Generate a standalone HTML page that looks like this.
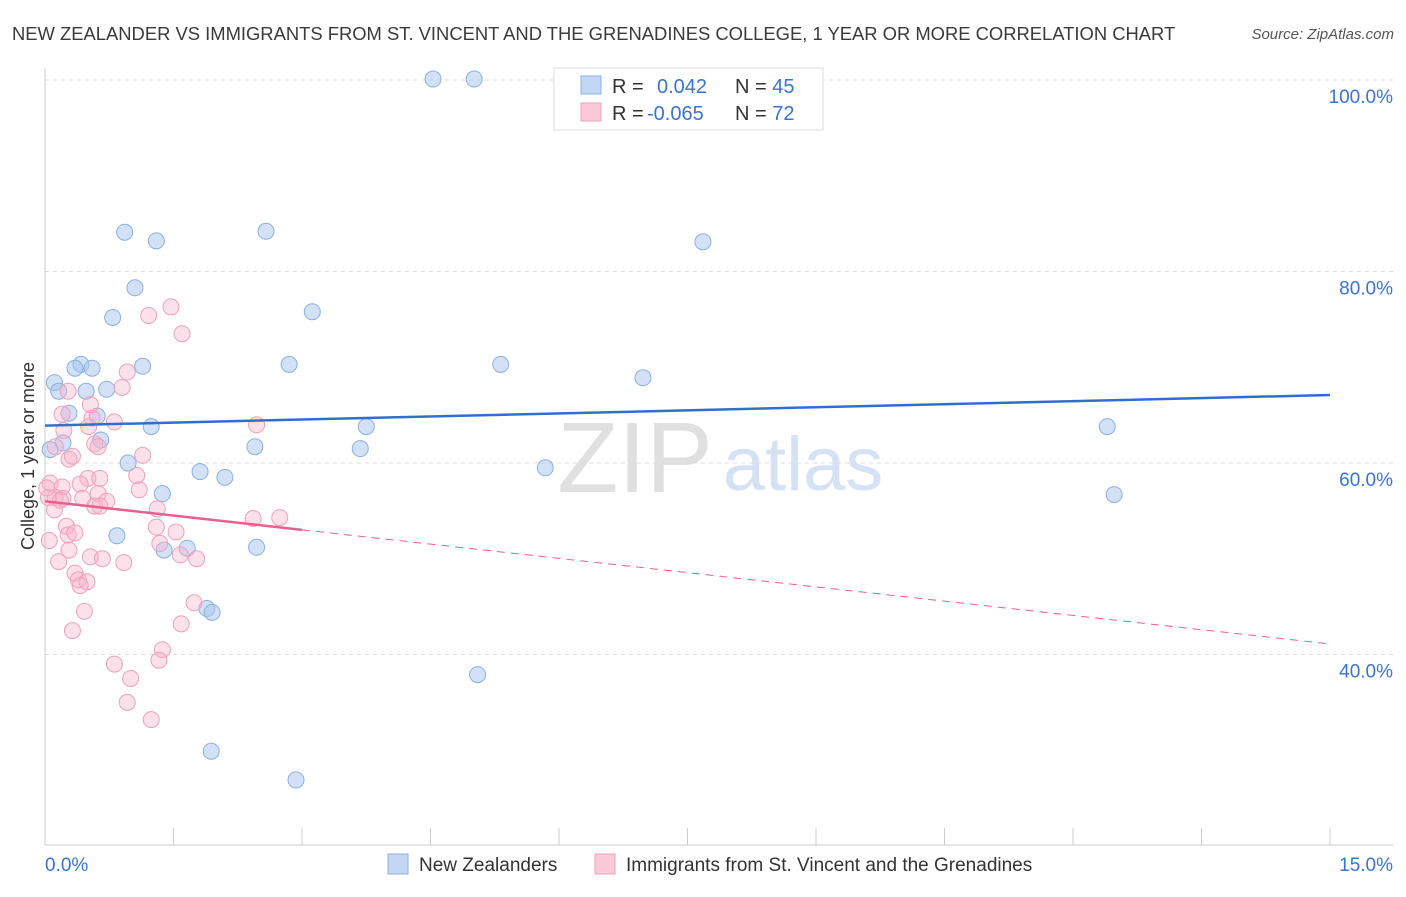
<!DOCTYPE html>
<html><head><meta charset="utf-8"><style>
body{margin:0;background:#fff;font-family:"Liberation Sans",sans-serif;}
svg text{font-family:"Liberation Sans",sans-serif;}
</style></head><body>
<svg id="chart" width="1406" height="892">
<text x="12" y="40" font-size="18.4" fill="#3a3a3a">NEW ZEALANDER VS IMMIGRANTS FROM ST. VINCENT AND THE GRENADINES COLLEGE, 1 YEAR OR MORE CORRELATION CHART</text>
<text x="1394" y="39" font-size="15" fill="#555" font-style="italic" text-anchor="end">Source: ZipAtlas.com</text>
<text x="635" y="492" font-size="100" fill="#e0e0e0" font-family="Liberation Serif,serif" text-anchor="middle">ZIP</text>
<text x="803" y="490" font-size="76" fill="#d4e2f4" text-anchor="middle">atlas</text>
<g id="grid"></g><g id="axes"></g><g id="pts"></g><g id="lines"></g>
<text transform="translate(34,456) rotate(-90)" font-size="18" fill="#333" text-anchor="middle">College, 1 year or more</text>
<g>
<rect x="554" y="68" width="269" height="62" fill="#fff" stroke="#ddd"/>
<rect x="581" y="76" width="20" height="18" fill="#c3d6f3" stroke="#8ab0e0"/>
<rect x="581" y="103" width="20" height="18" fill="#fbc9d8" stroke="#f0a0bb"/>
<text x="612" y="93" font-size="20" fill="#333">R = <tspan fill="#3a74d0" x="657">0.042</tspan><tspan fill="#333" x="735">N = </tspan><tspan fill="#3a74d0">45</tspan></text>
<text x="612" y="120" font-size="20" fill="#333">R = <tspan fill="#3a74d0" x="647">-0.065</tspan><tspan fill="#333" x="735">N = </tspan><tspan fill="#3a74d0">72</tspan></text>
</g>
<g>
<rect x="388" y="854" width="20" height="20" fill="#c3d6f3" stroke="#8ab0e0"/>
<text x="419" y="871" font-size="19" fill="#333">New Zealanders</text>
<rect x="595" y="854" width="20" height="20" fill="#fbc9d8" stroke="#f0a0bb"/>
<text x="626" y="871" font-size="19" fill="#333">Immigrants from St. Vincent and the Grenadines</text>
</g>
</svg>
<script>
const yTicks=[40,60,80,100];
const yTickLabels=["40.0%","60.0%","80.0%","100.0%"];
const xTickLabels=["0.0%","15.0%"];
const blueX=[4.53,5.01,0.93,1.30,2.58,7.68,1.05,0.79,3.12,0.42,0.35,0.55,1.14,2.85,5.32,6.98,0.11,0.16,0.48,0.72,0.28,0.61,1.24,3.75,12.40,0.21,0.65,2.45,3.68,0.97,1.81,2.10,5.84,1.37,12.48,0.84,1.66,1.39,2.47,1.89,1.95,5.05,1.94,2.93,0.06];
const blueY=[100.1,100.1,84.1,83.2,84.2,83.1,78.3,75.2,75.8,70.3,69.9,69.9,70.1,70.3,70.3,68.9,68.4,67.5,67.5,67.7,65.2,64.9,63.8,63.8,63.8,62.1,62.4,61.7,61.5,60.0,59.1,58.5,59.5,56.8,56.7,52.4,51.1,50.9,51.2,44.8,44.4,37.9,29.9,26.9,61.4];
const pinkX=[1.47,1.21,1.60,0.96,0.90,0.27,0.20,0.55,0.81,2.47,0.51,0.22,0.58,0.12,0.62,0.28,1.14,1.07,0.50,0.64,0.06,0.20,0.41,0.62,1.10,0.12,0.21,0.44,0.72,0.58,0.64,1.31,0.11,0.25,1.30,1.53,2.74,2.43,0.27,0.35,1.34,0.05,0.28,0.53,0.67,1.58,1.77,0.16,0.92,0.35,0.39,0.49,0.41,1.74,0.46,1.59,0.32,1.37,1.33,0.81,1.00,0.96,1.24,0.04,0.18,0.02,0.32,0.53];
const pinkY=[76.3,75.4,73.5,69.5,67.9,67.5,65.1,64.7,64.3,64.0,63.8,63.4,62.0,61.7,61.7,60.4,60.8,58.7,58.4,58.4,57.9,57.5,57.8,56.8,57.2,56.4,56.3,56.3,56.0,55.5,55.5,55.2,55.1,53.4,53.3,52.8,54.3,54.2,52.5,52.7,51.6,51.9,50.9,50.2,50.0,50.4,50.0,49.7,49.6,48.5,47.8,47.6,47.2,45.4,44.5,43.2,42.5,40.5,39.4,39.0,37.5,35.0,33.2,56.4,56.1,57.4,60.7,66.1];
const blueTrend=[63.9,67.1];
const pinkTrend=[56.0,41.1];
const pinkSolidEnd=3.0;
const NS="http://www.w3.org/2000/svg";
const sx=v=>45+v/15*1285;
const sy=v=>80+(100-v)*9.575;
function mk(parent,tag,attrs){const e=document.createElementNS(NS,tag);for(const k in attrs)e.setAttribute(k,attrs[k]);document.getElementById(parent).appendChild(e);return e;}
yTicks.forEach((t,i)=>{
 const l=mk('grid','line',{x1:45,x2:1393,y1:sy(t),y2:sy(t),stroke:'#ddd','stroke-dasharray':'4,4'});
 
 
 const tx=mk('grid','text',{x:1393,y:sy(t)+23,'font-size':19,fill:'#3a74d0','text-anchor':'end'});
 tx.textContent=yTickLabels[i];
 
 
});
const ax=mk('axes','line',{x1:45,x2:45,y1:68,y2:845,stroke:'#ccc'});


const bx=mk('axes','line',{x1:45,x2:1393,y1:845,y2:845,stroke:'#ccc'});


for(let i=0;i<=10;i++){const v=i*1.5;const t=mk('axes','line',{x1:sx(v),x2:sx(v),y1:828,y2:845,stroke:'#ccc'});
 
 }
[[0,'start',45],[15,'end',1393]].forEach((a,i)=>{const t=mk('axes','text',{x:a[2],y:871,'font-size':19,fill:'#3a74d0','text-anchor':a[1]});t.textContent=xTickLabels[i];
 
 });
blueX.forEach((x,i)=>{const c=mk('pts','circle',{cx:sx(x),cy:sy(blueY[i]),r:8,fill:'rgba(165,195,238,0.5)',stroke:'#8ab0e0','stroke-width':1});
 
 });
pinkX.forEach((x,i)=>{const c=mk('pts','circle',{cx:sx(x),cy:sy(pinkY[i]),r:8,fill:'rgba(248,178,202,0.4)',stroke:'#f0a0bb','stroke-width':1});
 
 });
const bl=mk('lines','line',{x1:sx(0),y1:sy(blueTrend[0]),x2:sx(15),y2:sy(blueTrend[1]),stroke:'#2f6fd0','stroke-width':2.5});


const pm=pinkTrend[0]+(pinkTrend[1]-pinkTrend[0])*pinkSolidEnd/15;
const pl=mk('lines','line',{x1:sx(0),y1:sy(pinkTrend[0]),x2:sx(pinkSolidEnd),y2:sy(pm),stroke:'#e8608c','stroke-width':2.5});


const pd=mk('lines','line',{x1:sx(pinkSolidEnd),y1:sy(pm),x2:sx(15),y2:sy(pinkTrend[1]),stroke:'#e8608c','stroke-width':1,'stroke-dasharray':'8,6'});


</script>
</body></html>
